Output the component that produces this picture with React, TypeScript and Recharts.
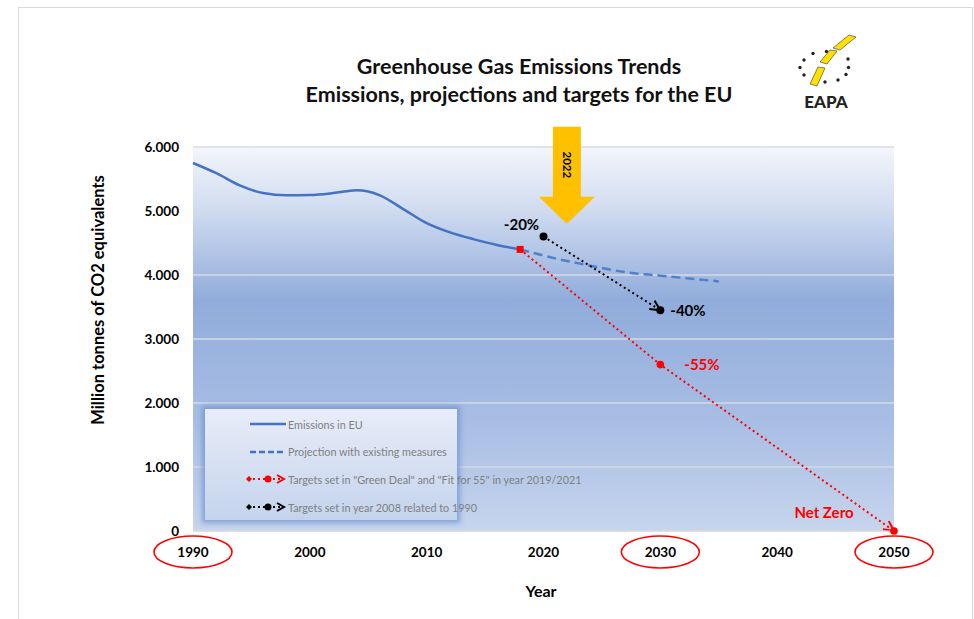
import React from 'react';
import { ComposedChart, Line, XAxis, YAxis, CartesianGrid, Legend, ReferenceDot } from 'recharts';

// axis ticks
const yearTicks = [1990, 2000, 2010, 2020, 2030, 2040, 2050];
const circledYears = [1990, 2030, 2050];
const valueTicks = [0, 1000, 2000, 3000, 4000, 5000, 6000];

// Emissions in EU (Mt CO2 eq.)
const emissionYears = [1990, 1992, 1994, 1996, 1998, 2000, 2002, 2004, 2005, 2006, 2008, 2010, 2012, 2014, 2016, 2018];
const emissionValues = [5750, 5590, 5400, 5280, 5245, 5250, 5280, 5325, 5305, 5245, 5030, 4810, 4665, 4560, 4470, 4400];

// Projection with existing measures
const projectionYears = [2018, 2021, 2024, 2027, 2030, 2035];
const projectionValues = [4400, 4260, 4145, 4045, 3990, 3900];

// Green Deal / Fit for 55 targets
const greenDealYears = [2018, 2030, 2050];
const greenDealValues = [4400, 2600, 0];
const greenDealLabels = ['', '-55%', 'Net Zero'];

// 2008 targets related to 1990
const target2008Years = [2020, 2030];
const target2008Values = [4600, 3450];
const target2008Labels = ['-20%', '-40%'];

// "2022" marker arrow (tip)
const markerYear = 2022;
const markerValue = 4800;

const legendNames = [
  'Emissions in EU',
  'Projection with existing measures',
  'Targets set in "Green Deal" and "Fit for 55" in year 2019/2021',
  'Targets set in year 2008  related to 1990',
];

const toRows = (xs: number[], vs: number[]) => xs.map((year, i) => ({ year, value: vs[i] }));

const emissionRows = toRows(emissionYears, emissionValues);
const projectionRows = toRows(projectionYears, projectionValues);
const greenDealRows = toRows(greenDealYears, greenDealValues);
const target2008Rows = toRows(target2008Years, target2008Values);

const FONT = 'Lato, "Open Sans", sans-serif';
const BLUE = '#4472c4';

const formatValue = (v: number) =>
  v === 0 ? '0' : `${Math.floor(v / 1000)}.${String(v % 1000).padStart(3, '0')}`;

const YearTick = (props: any) => {
  const { x, y, payload } = props;
  const circled = circledYears.includes(payload.value);
  return (
    <g>
      {circled && (
        <ellipse cx={x} cy={y + 13} rx={39} ry={16} fill="none" stroke="#ff0000" strokeWidth={1.6} />
      )}
      <text x={x} y={y + 18} textAnchor="middle" fontFamily={FONT} fontSize={13.5} fontWeight={700} fill="#000">
        {payload.value}
      </text>
    </g>
  );
};

const greenDealDot = (props: any) => {
  const { cx, cy, index } = props;
  const label = greenDealLabels[index];
  return (
    <g key={`gd-${index}`}>
      {index === 0 ? (
        <rect x={cx - 3.5} y={cy - 3.5} width={7} height={7} fill="#ff0000" />
      ) : (
        <circle cx={cx} cy={cy} r={3.8} fill="#ff0000" />
      )}
      {index === 1 && (
        <text x={cx + 24} y={cy + 5} fontFamily={FONT} fontSize={15} fontWeight={700} fill="#ff0000">
          {label}
        </text>
      )}
      {index === 2 && (
        <text x={cx - 70} y={cy - 13} textAnchor="middle" fontFamily={FONT} fontSize={15} fontWeight={700} fill="#ff0000">
          {label}
        </text>
      )}
    </g>
  );
};

const target2008Dot = (props: any) => {
  const { cx, cy, index } = props;
  const label = target2008Labels[index];
  return (
    <g key={`t8-${index}`}>
      <circle cx={cx} cy={cy} r={4} fill="#000" />
      {index === 0 ? (
        <text x={cx - 22} y={cy - 7} textAnchor="middle" fontFamily={FONT} fontSize={15} fontWeight={700} fill="#000">
          {label}
        </text>
      ) : (
        <text x={cx + 10} y={cy + 6} fontFamily={FONT} fontSize={15} fontWeight={700} fill="#000">
          {label}
        </text>
      )}
    </g>
  );
};

const YellowArrow = (props: any) => {
  const { cx, cy } = props;
  const pts = [
    [cx, cy],
    [cx - 28, cy - 27],
    [cx - 14, cy - 27],
    [cx - 14, cy - 97],
    [cx + 14, cy - 97],
    [cx + 14, cy - 27],
    [cx + 28, cy - 27],
  ]
    .map((p) => p.join(','))
    .join(' ');
  return (
    <g>
      <polygon points={pts} fill="#ffc000" />
      <text
        transform={`translate(${cx},${cy - 59}) rotate(90)`}
        textAnchor="middle"
        dy="0.35em"
        fontFamily={FONT}
        fontSize={11.5}
        fontWeight={700}
        fill="#000"
      >
        {markerYear}
      </text>
    </g>
  );
};

const LegendIcon = ({ i }: { i: number }) => {
  if (i === 0) return <line x1={4} y1={7} x2={40} y2={7} stroke={BLUE} strokeWidth={2.5} />;
  if (i === 1) return <line x1={4} y1={7} x2={40} y2={7} stroke={BLUE} strokeWidth={2.5} strokeDasharray="6 3" />;
  const c = i === 2 ? '#ff0000' : '#000';
  return (
    <g>
      <polygon points="0,7 3,4 6,7 3,10" fill={c} />
      <line x1={7} y1={7} x2={34} y2={7} stroke={c} strokeWidth={2} strokeDasharray="2 3" />
      <circle cx={22} cy={7} r={3.5} fill={c} />
      <path d="M31,3 L38,7 L31,11" fill="none" stroke={c} strokeWidth={2} />
    </g>
  );
};

const LegendBox = () => (
  <div
    style={{
      position: 'relative',
      width: 252,
      height: 111,
      background: 'linear-gradient(#e8edf8, #c4d3ed)',
      boxShadow: '0 0 5px 3px rgba(110,145,210,0.75)',
      fontFamily: FONT,
      fontSize: 10.8,
      color: '#7f7f7f',
    }}
  >
    {legendNames.map((name, i) => (
      <div
        key={name}
        style={{ position: 'absolute', left: 41, top: 7 + i * 27.7, height: 16, display: 'flex', alignItems: 'center', whiteSpace: 'nowrap' }}
      >
        <svg width={41} height={14} style={{ marginRight: 1 }}>
          <LegendIcon i={i} />
        </svg>
        <span>{name}</span>
      </div>
    ))}
  </div>
);

const Logo = () => {
  const dots = [
    [804, 60], [813, 53.5], [826.5, 51.5], [848, 59], [800, 67.5], [848.5, 67.5],
    [804, 75], [846, 74.5], [838, 80], [825, 82],
  ];
  return (
    <svg width={974} height={130} style={{ position: 'absolute', left: 0, top: 0 }}>
      {dots.map(([x, y], i) => (
        <circle key={i} cx={x} cy={y} r={1.7} fill="#222" />
      ))}
      <polygon points="849,35 856,37 840,50 833,48" fill="#ffe100" stroke="#333" strokeWidth={0.6} />
      <polygon points="830,50 837,51 827,64 820,62" fill="#ffe100" stroke="#333" strokeWidth={0.6} />
      <polygon points="818,67 825,68 817,86 810,84" fill="#ffe100" stroke="#333" strokeWidth={0.6} />
      <text x={826} y={108} textAnchor="middle" fontFamily={FONT} fontSize={17} fontWeight={900} fill="#222">
        EAPA
      </text>
    </svg>
  );
};

export default function App() {
  return (
    <div style={{ position: 'absolute', left: 0, top: 0, width: 974, height: 619, background: '#fff', fontFamily: FONT, overflow: 'hidden' }}>
      <div style={{ position: 'absolute', left: 18, top: 7, width: 953, height: 640, border: '1px solid #d9d9d9' }} />

      <div style={{ position: 'absolute', left: 0, width: 1038, top: 52, textAlign: 'center', fontSize: 21.5, fontWeight: 700, lineHeight: '28px', color: '#111' }}>
        Greenhouse Gas Emissions Trends
        <br />
        Emissions, projections and targets for the EU
      </div>
      <Logo />

      <ComposedChart
        width={974}
        height={619}
        margin={{ top: 147, right: 80, bottom: 48, left: 133 }}
        style={{ position: 'absolute', left: 0, top: 0 }}
      >
        <defs>
          <linearGradient id="plotBg" x1="0" y1="0" x2="0" y2="1">
            <stop offset="0%" stopColor="#f3f6fb" />
            <stop offset="15%" stopColor="#d3def1" />
            <stop offset="40%" stopColor="#91acdb" />
            <stop offset="72%" stopColor="#a8bee4" />
            <stop offset="100%" stopColor="#c7d5ed" />
          </linearGradient>
          <marker id="arrowRed" viewBox="0 0 12 12" refX={11} refY={6} markerWidth={12} markerHeight={12} markerUnits="userSpaceOnUse" orient="auto">
            <path d="M1,1 L11,6 L1,11" fill="none" stroke="#ff0000" strokeWidth={2} />
          </marker>
          <marker id="arrowBlack" viewBox="0 0 12 12" refX={11} refY={6} markerWidth={12} markerHeight={12} markerUnits="userSpaceOnUse" orient="auto">
            <path d="M1,1 L11,6 L1,11" fill="none" stroke="#000" strokeWidth={2} />
          </marker>
        </defs>
        <CartesianGrid vertical={false} fill="url(#plotBg)" fillOpacity={1} stroke="#d6dae2" strokeWidth={1.5} />
        <XAxis
          dataKey="year"
          type="number"
          domain={[1990, 2050]}
          ticks={yearTicks}
          interval={0}
          height={40}
          tickLine={false}
          axisLine={{ stroke: '#d9d9d9' }}
          tick={<YearTick />}
        />
        <YAxis
          type="number"
          domain={[0, 6000]}
          ticks={valueTicks}
          width={60}
          tickLine={false}
          axisLine={false}
          tickMargin={8}
          tickFormatter={formatValue}
          tick={{ fontFamily: FONT, fontSize: 13.5, fontWeight: 700, fill: '#000' }}
        />
        <Legend
          layout="horizontal"
          verticalAlign="middle"
          align="center"
          wrapperStyle={{ left: 205, top: 409, width: 252, height: 111 }}
          content={<LegendBox />}
        />
        <Line
          data={emissionRows}
          dataKey="value"
          name="Emissions in EU"
          type="monotone"
          stroke={BLUE}
          strokeWidth={2.5}
          dot={false}
          isAnimationActive={false}
        />
        <Line
          data={projectionRows}
          dataKey="value"
          name="Projection with existing measures"
          type="monotone"
          stroke="#5080cc"
          strokeWidth={2.5}
          strokeDasharray="9 5"
          dot={false}
          isAnimationActive={false}
        />
        <Line
          data={greenDealRows}
          dataKey="value"
          name="Green Deal targets"
          type="linear"
          stroke="#ff0000"
          strokeWidth={2}
          strokeDasharray="2 3"
          markerEnd="url(#arrowRed)"
          dot={greenDealDot}
          isAnimationActive={false}
        />
        <Line
          data={target2008Rows}
          dataKey="value"
          name="2008 targets"
          type="linear"
          stroke="#000"
          strokeWidth={2}
          strokeDasharray="2 3"
          markerEnd="url(#arrowBlack)"
          dot={target2008Dot}
          isAnimationActive={false}
        />
        <ReferenceDot x={markerYear} y={markerValue} ifOverflow="visible" shape={<YellowArrow />} />
      </ComposedChart>

      <div
        style={{
          position: 'absolute',
          left: 98,
          top: 300,
          transform: 'translate(-50%, -50%) rotate(-90deg)',
          whiteSpace: 'nowrap',
          fontSize: 16.5,
          fontWeight: 700,
          color: '#000',
        }}
      >
        Million tonnes of CO2 equivalents
      </div>
      <div style={{ position: 'absolute', left: 541, top: 590, transform: 'translate(-50%, -50%)', fontSize: 16, fontWeight: 700, color: '#000' }}>
        Year
      </div>
    </div>
  );
}
